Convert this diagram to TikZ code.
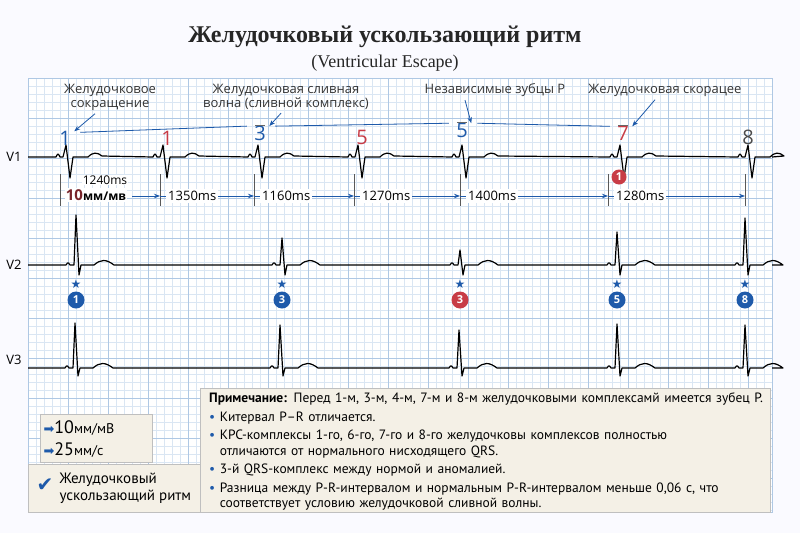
\documentclass[tikz,border=0pt]{standalone}
\usepackage{fontspec}
\setmainfont{Liberation Serif}
\setsansfont{Open Sans}
\newfontfamily\notefont{PT Sans}
\newfontfamily\symfont{DejaVu Sans}
\usetikzlibrary{arrows.meta, positioning, calc}
\definecolor{ecgblue}{RGB}{30,90,170}
\definecolor{ecgred}{RGB}{200,60,70}
\definecolor{gridminor}{RGB}{218,230,243}
\definecolor{gridmajor}{RGB}{175,200,228}
\definecolor{notebg}{RGB}{244,240,230}
\begin{document}
\begin{tikzpicture}[x=1pt, y=-1pt, font=\sffamily]
    % Define display styles
    \tikzstyle{ecg}=[black, line width=1.2pt, line join=round]
    \tikzstyle{callout}=[font=\sffamily\fontsize{13}{14}\selectfont, align=center, text=black!80]
    \tikzstyle{pointer}=[ecgblue, thick, -{Stealth[length=6pt]}]
    \tikzstyle{interval}=[ecgblue, thick, -{Stealth[length=6pt]}]
    \tikzstyle{beatline}=[gray!70!black, thin]
    \tikzstyle{ms}=[font=\sffamily\fontsize{13}{14}\selectfont, fill=white, inner sep=2pt]
    \tikzstyle{num}=[font=\sffamily\fontsize{20}{22}\selectfont]
    \tikzstyle{badge}=[circle, inner sep=0pt, minimum size=15pt, text=white,
        font=\sffamily\fontsize{11}{12}\selectfont\bfseries]

    % Background and bounding box
    \fill[blue!2] (0,0) rectangle (800,533);
    \useasboundingbox (0,0) rectangle (800,533);

    % Draw the grid
    \fill[white] (28,78) rectangle (772,512);
    \foreach \x in {28,36,...,772}
        \draw[gridminor] (\x,78) -- (\x,512);
    \foreach \y in {78,86,...,512}
        \draw[gridminor] (28,\y) -- (772,\y);
    \foreach \x in {28,68,...,772}
        \draw[gridmajor] (\x,78) -- (\x,512);
    \foreach \y in {78,118,...,512}
        \draw[gridmajor] (28,\y) -- (772,\y);
    \draw[gridmajor] (28,78) rectangle (772,512);

    % Title
    \node[font=\rmfamily\bfseries\fontsize{24}{26}\selectfont, text=black!85] (title) at (385,37)
        {Желудочковый ускользающий ритм};
    \node[font=\rmfamily\fontsize{18}{20}\selectfont, text=black!85, below=0pt of title] (subtitle)
        {(Ventricular Escape)};

    % Lead names
    \node[font=\sffamily\fontsize{13}{14}\selectfont] (v1) at (14,157) {V1};
    \node[font=\sffamily\fontsize{13}{14}\selectfont] (v2) at (14,265) {V2};
    \node[font=\sffamily\fontsize{13}{14}\selectfont] (v3) at (14,360) {V3};

    % Traces
    \draw[ecg] (28,157) \foreach \x in {66,163,258,358,462,620,748}
        { -- (\x-10,157) .. controls (\x-8,153) .. (\x-6,157) -- (\x-3,157) -- (\x,145)
          -- (\x+4,178) -- (\x+7,157) -- (\x+22,157) .. controls (\x+27,152) and (\x+31,152) .. (\x+36,156) }
        -- (772,157);
    \draw[ecg] (28,265) \foreach \x/\h in {76/215,282/238,460/250,617/232,745/218}
        { -- (\x-10,265) .. controls (\x-8,262) .. (\x-6,265) -- (\x-2,265) -- (\x,\h)
          -- (\x+3,275) -- (\x+5,265) -- (\x+18,265) .. controls (\x+25,259) and (\x+30,259) .. (\x+38,265) }
        -- (772,265);
    \draw[ecg] (28,368) \foreach \x/\h in {75/323,280/325,459/330,617/324,745/325}
        { -- (\x-10,368) .. controls (\x-8,365) .. (\x-6,368) -- (\x-2,368) -- (\x,\h)
          -- (\x+3,376) -- (\x+5,368) -- (\x+18,368) .. controls (\x+25,362) and (\x+30,362) .. (\x+38,368) }
        -- (772,368);

    % Beat numbers above V1
    \node[num, text=ecgblue] (n1) at (65,138) {1};
    \node[num, text=ecgred] (n2) at (167,138) {1};
    \node[num, text=ecgblue] (n3) at (260,133) {3};
    \node[num, text=ecgred] (n4) at (362,137) {5};
    \node[num, text=ecgblue] (n5) at (462,130) {5};
    \node[num, text=ecgred] (n6) at (623,133) {7};
    \node[num, text=black!70] (n7) at (748,137) {8};
    \foreach \n in {n3, n5, n6}
        \draw[black!60] ([xshift=-5pt, yshift=-3pt]\n.north) -- ([xshift=5pt, yshift=-3pt]\n.north);

    % Connecting line of the P waves
    \draw[ecgblue, thick] ([xshift=6pt, yshift=-5pt]n1.north east) -- ([xshift=-4pt, yshift=-4pt]n3.north west);
    \draw[ecgblue, thick] ([xshift=6pt, yshift=-4pt]n3.north east) -- ([xshift=-4pt, yshift=-4pt]n5.north west);
    \draw[ecgblue, thick] ([xshift=6pt, yshift=-4pt]n5.north east) -- ([xshift=-4pt, yshift=-4pt]n6.north west);

    % Callouts
    \node[callout] (c1) at (110,97) {Желудочковое\\сокращение};
    \node[callout] (c2) at (286,97) {Желудочковая сливная\\волна (сливной комплекс)};
    \node[callout] (c3) at (495,90) {Независимые зубцы P};
    \node[callout] (c4) at (665,90) {Желудочковая скорацее};
    \draw[pointer] ([xshift=-15pt]c1.south) -- ([yshift=-4pt]n1.north east);
    \draw[pointer] ([xshift=-5pt]c2.south) -- ([yshift=-4pt]n3.north east);
    \draw[pointer] ([xshift=-30pt]c3.south) -- ([yshift=-4pt]n5.north east);
    \draw[pointer] ([xshift=-10pt]c4.south) -- ([yshift=-4pt]n6.north east);
    \node[badge, fill=ecgred] (b0) at (619,177) {1};

    % Interval marks
    \foreach \x [count=\i] in {60,160,254,354,460,608,745}
        \coordinate (t\i) at (\x,196);
    \foreach \i in {1,...,7}
        \draw[beatline] ($(t\i)+(0,-22)$) -- ($(t\i)+(0,10)$);
    \draw[interval] (132,196) -- (t2);
    \foreach \a/\b in {2/3,3/4,4/5,5/6,6/7}
        \draw[interval] (t\a) -- (t\b);
    \foreach \a/\b/\t [count=\i] in {2/3/1350,3/4/1160,4/5/1270,5/6/1400,6/7/1280}
        \node[ms, anchor=west] (ms\i) at ($(t\a)+(6,0)$) {\t ms};
    \node[font=\sffamily\fontsize{12}{13}\selectfont, fill=white, inner sep=1pt] (ms0) at (105,180) {1240ms};
    \node[font=\sffamily\bfseries\fontsize{12}{13}\selectfont, fill=white, inner sep=1pt] (scale) at (96,195)
        {\textcolor{ecgred!60!black}{\fontsize{15}{16}\selectfont 10}мм/мв};

    % Stars and badges under V2
    \foreach \x/\t/\c [count=\i] in {76/1/ecgblue,282/3/ecgblue,460/3/ecgred,617/5/ecgblue,745/8/ecgblue} {
        \node[text=ecgblue, font=\symfont\fontsize{12}{12}\selectfont] (s\i) at (\x,284) {★};
        \node[badge, fill=\c, minimum size=17pt] (b\i) at (\x,300) {\t};
    }

    % Legend
    \node[draw=black!25, fill=notebg, minimum width=112pt, minimum height=48pt] (legend) at (96,438) {};
    \node[anchor=west, font=\notefont\fontsize{18}{20}\selectfont] (l1) at (40,428)
        {\textcolor{ecgblue}{\symfont\fontsize{13}{14}\selectfont ➡}10\fontsize{14}{16}\selectfont мм/мВ};
    \node[anchor=west, font=\notefont\fontsize{18}{20}\selectfont] (l2) at (40,450)
        {\textcolor{ecgblue}{\symfont\fontsize{13}{14}\selectfont ➡}25\fontsize{14}{16}\selectfont мм/с};
    \node[draw=black!25, fill=notebg, minimum width=172pt, minimum height=48pt] (check) at (114,488) {};
    \node[text=ecgblue, font=\symfont\fontsize{20}{22}\selectfont] (tick) at (45,485) {✔};
    \node[anchor=west, align=left, font=\notefont\fontsize{15}{17}\selectfont] (rhythm) at (56,488)
        {Желудочковый\\ускользающий ритм};

    % Note box
    \node[draw=black!25, fill=notebg, minimum width=570pt, minimum height=124pt, anchor=north west] (note)
        at (200,388) {};
    \node[anchor=north west, align=left, font=\notefont\fontsize{13.5}{15.5}\selectfont, text width=560pt,
        inner sep=0pt] (notetext) at (209,393)
        {\textbf{Примечание:} Перед 1-м, 3-м, 4-м, 7-м и 8-м  желудочковыми комплексамй имеется зубец P.\\[3pt]
         \textcolor{ecgblue}{•} Китервал P–R отличается.\\[3pt]
         \textcolor{ecgblue}{•} КРС-комплексы 1-го, 6-го, 7-го и 8-го желудочковы комплексов полностью\\
         \phantom{•} отличаются от нормального нисходящего QRS.\\[3pt]
         \textcolor{ecgblue}{•} 3-й QRS-комплекс между нормой и аномалией.\\[3pt]
         \textcolor{ecgblue}{•} Разница между P-R-интервалом и нормальным P-R-интервалом меньше 0,06 с, что\\
         \phantom{•} соответствует условию желудочковой сливной волны.};
\end{tikzpicture}
\end{document}
